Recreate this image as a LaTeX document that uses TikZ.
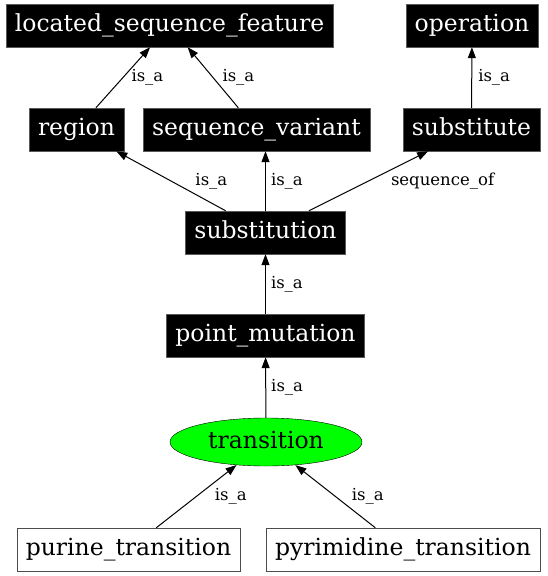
\documentclass[tikz,border=0pt]{standalone}
\usepackage{fontspec}
\setmainfont{DejaVu Serif}
\usetikzlibrary{arrows.meta,shapes.geometric}

\begin{document}
\begin{tikzpicture}[x=1pt,y=-1pt,
  term/.style={fill=black,draw=black!65,text=white,minimum height=43pt,inner xsep=9pt,inner ysep=0pt,text height=17pt,text depth=5pt,font=\fontsize{23.5}{28}\selectfont},
  plain/.style={draw=black!70,fill=white,minimum height=43pt,inner xsep=9pt,inner ysep=0pt,text height=17pt,text depth=5pt,font=\fontsize{23.5}{28}\selectfont},
  focus/.style={ellipse,draw=black,fill=green,minimum width=192pt,minimum height=48pt,inner sep=0pt,text height=17pt,text depth=5pt,font=\fontsize{23.5}{28}\selectfont},
  rel/.style={draw=black,line width=1pt,-{Triangle[length=11pt,width=8pt]}},
  lab/.style={font=\fontsize{16.5}{19}\selectfont,inner sep=0pt}]
\useasboundingbox (0,0) rectangle (548,576);

\node[term] (lsf) at (169.5,25.5) {located\_sequence\_feature};
\node[term] (operation) at (472,25.5) {operation};
\node[term] (region) at (76.5,129.5) {region};
\node[term] (variant) at (256.5,129.5) {sequence\_variant};
\node[term] (substitute) at (471.5,129.5) {substitute};
\node[term] (substitution) at (265.5,232.5) {substitution};
\node[term] (pointmut) at (265.5,335.5) {point\_mutation};
\node[focus] (transition) at (266,442) {transition};
\node[plain] (purine) at (128.5,549.5) {purine\_transition};
\node[plain] (pyrimidine) at (403,549.5) {pyrimidine\_transition};

\draw[rel] (region) -- node[lab,midway,right=8pt] {is\_a} (lsf);
\draw[rel] (variant) -- node[lab,midway,right=9pt] {is\_a} (lsf);
\draw[rel] (substitute) -- node[lab,midway,right=6pt] {is\_a} (operation);
\draw[rel] (substitution) -- node[lab,midway,right=24pt] {is\_a} (region);
\draw[rel] (substitution.north) -- node[lab,midway,right=5pt] {is\_a} (substitution.north |- variant.south);
\draw[rel] (substitution) -- node[lab,midway,right=22pt] {sequence\_of} (substitute);
\draw[rel] (pointmut) -- node[lab,midway,right=5pt] {is\_a} (substitution);
\draw[rel] (transition) -- node[lab,midway,right=5pt] {is\_a} (pointmut);
\draw[rel] (purine) -- node[lab,midway,right=18pt] {is\_a} (transition);
\draw[rel] (pyrimidine) -- node[lab,midway,right=16pt] {is\_a} (transition);
\end{tikzpicture}
\end{document}
